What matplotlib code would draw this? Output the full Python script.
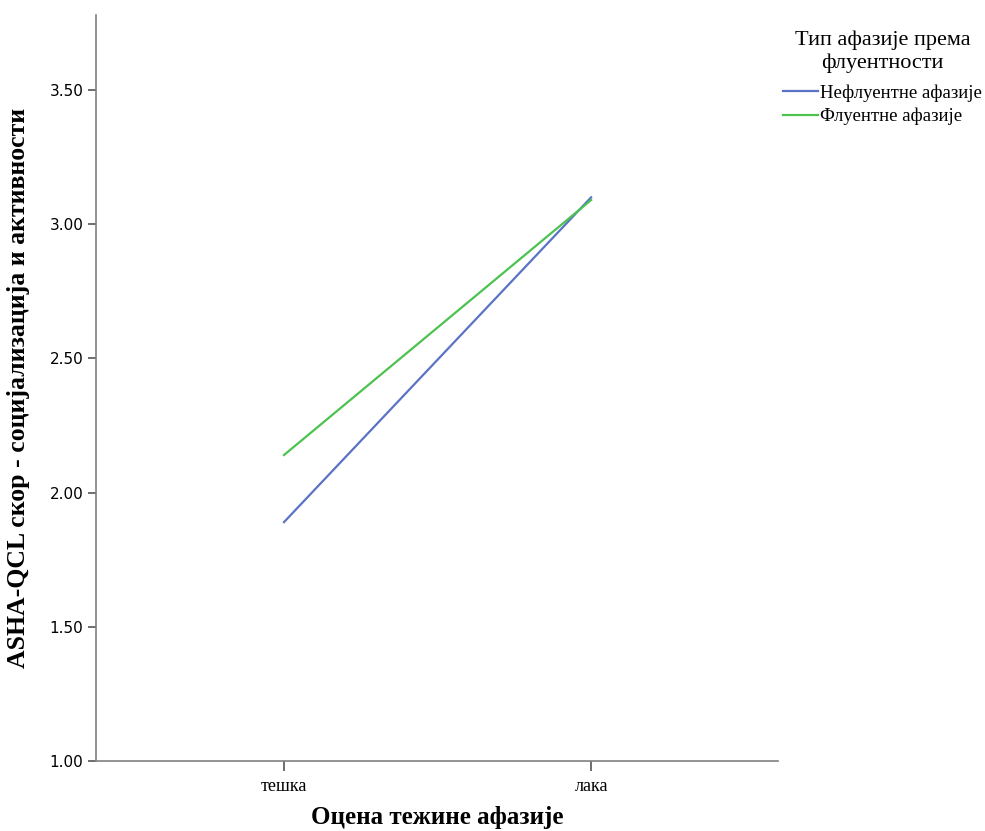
import matplotlib
matplotlib.use("Agg")
import matplotlib.pyplot as plt

# data
categories = ["тешка", "лака"]
nefluentne = [1.89, 3.10]
fluentne = [2.14, 3.09]
series_names = ["Нефлуентне афазије", "Флуентне афазије"]
y_ticks = [1.00, 1.50, 2.00, 2.50, 3.00, 3.50]

serif = ["Liberation Serif", "DejaVu Serif"]

fig = plt.figure(figsize=(9.85, 8.31), dpi=100)
ax = fig.add_axes([0.0975, 0.0842, 0.6925, 0.898])

x = list(range(len(categories)))
ax.plot(x, nefluentne, color="#5b73c4", lw=1.6, label=series_names[0])
ax.plot(x, fluentne, color="#4cc24f", lw=1.6, label=series_names[1])

ax.set_xlim(-0.612, 1.609)
ax.set_ylim(1.0, 3.78)
ax.set_xticks(x)
ax.set_xticklabels(categories, family=serif, fontsize=13)
ax.set_yticks(y_ticks)
ax.set_yticklabels([f"{v:.2f}" for v in y_ticks], fontsize=11,
                   family=["DejaVu Sans"])

for side in ["top", "right"]:
    ax.spines[side].set_visible(False)
for side in ["left", "bottom"]:
    ax.spines[side].set_color("#808080")
    ax.spines[side].set_linewidth(1.2)
ax.tick_params(axis="both", direction="out", length=6, width=1.2, color="#555555")
ax.tick_params(axis="y", pad=3)
ax.tick_params(axis="x", length=7, pad=5)

ax.set_xlabel("Оцена тежине афазије", family=serif, fontsize=18,
              fontweight="bold", labelpad=8)
ax.set_ylabel("ASHA-QCL скор - социјализација и активности", family=serif,
              fontsize=18.5, fontweight="bold", labelpad=14)

leg = fig.legend(title="Тип афазије према\nфлуентности", loc="upper left",
                 bbox_to_anchor=(0.795, 0.963), frameon=False,
                 prop={"family": serif, "size": 13.5},
                 handlelength=1.85, handletextpad=0.12, labelspacing=0.3,
                 borderaxespad=0, borderpad=0)
leg.get_title().set_fontfamily(serif)
leg.get_title().set_fontsize(16)
leg.get_title().set_multialignment("center")
leg.get_title().set_linespacing(1.25)
leg._legend_box.align = "center"
leg._legend_box.sep = 8

fig.savefig("out.png", dpi=100)
